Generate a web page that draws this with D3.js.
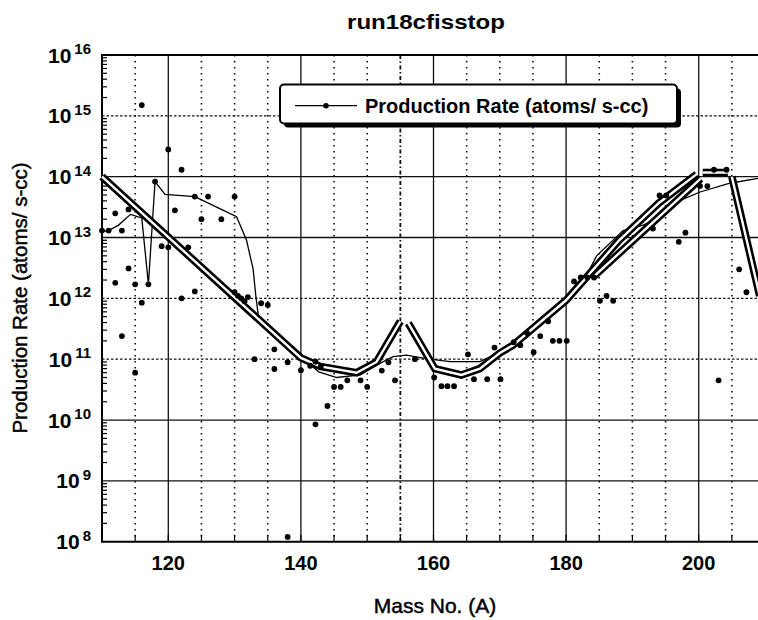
<!DOCTYPE html>
<html lang="en">
<head>
<meta charset="UTF-8">
<title>run18cfisstop</title>
<script src="https://d3js.org/d3.v7.min.js"></script>
<style>
  body { margin: 0; background: #fff; }
  svg { display: block; font-family: "Liberation Sans", Arial, sans-serif; }
  .grid-solid { stroke: #111; stroke-width: 1.3; }
  .grid-dot { stroke: #111; stroke-width: 1.6; stroke-dasharray: 1.6 4.4; }
  .grid-hdot { stroke: #111; stroke-width: 1.3; stroke-dasharray: 2.5 2; }
  .grid-dashdot { stroke: #111; stroke-width: 1.8; stroke-dasharray: 4 2.5 1.5 2.5; }
  .axis-line { stroke: #000; stroke-width: 2; fill: none; }
  .tick { stroke: #000; stroke-width: 1.2; }
  .thin { fill: none; stroke: #000; stroke-width: 1.3; }
  .thick-outer { fill: none; stroke: #000; stroke-width: 7.6; stroke-linejoin: miter; }
  .thick-inner { fill: none; stroke: #fff; stroke-width: 2.4; stroke-linejoin: miter; }
  .dot { fill: #000; }
  .heavy-text { stroke: #000; stroke-width: 0.45; }
</style>
</head>
<body>
<svg id="chart" width="758" height="620"></svg>
<script>
// scattered production rates (mass number, atoms/s-cc)
const dotMass = [110, 111, 112, 113, 114, 112, 114, 115, 116, 117, 118, 116, 113, 115,
  119, 120, 120, 121, 122, 122, 123, 124, 124, 125, 126, 128, 130, 130, 130.5, 131, 131.5, 132,
  133, 134, 135, 136, 136, 138, 138, 140, 141.4, 142.2, 142.2, 143, 144, 145, 146, 147, 149, 150,
  152.2, 153.2, 154.2, 157.2, 160.1, 161.2, 162.1, 163.1, 165.2, 166.1, 168.1, 170.1, 169.2,
  172.1, 173.1, 174.1, 175.1, 176.1, 177.3, 178, 179, 180.1, 181.2, 182.2, 183.2, 184.2,
  185.1, 186.1, 187.1, 193.1, 194.1, 195.1, 197, 198, 200.2, 201.3, 202.3, 204.2, 203, 206.1, 207.2];
const dotRate = [1.3e13, 1.3e13, 2.5e13, 1.3e13, 2.9e13, 1.8e12, 3.1e12, 1.7e12, 8.5e11, 1.7e12, 8.3e13, 1.5e15, 2.4e11, 6e10,
  7.2e12, 6.9e12, 2.8e14, 2.8e13, 1.3e14, 1e12, 6.9e12, 4.7e13, 1.3e12, 2e13, 4.7e13, 2e13, 4.7e13, 1.26e12, 1.1e12, 1e12, 9e11, 1.05e12,
  1e11, 8.3e11, 7.8e11, 1.45e11, 6.9e10, 8.9e10, 1.2e8, 6.6e10, 7.8e10, 9.1e10, 8.5e9, 7.6e10, 1.7e10, 3.5e10, 3.5e10, 4.5e10, 4.5e10, 3.5e10,
  6.5e10, 8.9e10, 4.5e10, 1e11, 5e10, 3.6e10, 3.6e10, 3.6e10, 1.2e11, 4.7e10, 4.7e10, 4.7e10, 1.55e11,
  1.9e11, 1.7e11, 2.7e11, 1.3e11, 2.4e11, 4.2e11, 2e11, 2e11, 2e11, 1.9e12, 2.2e12, 2.2e12, 2.2e12,
  9.1e11, 1.1e12, 9.1e11, 1.4e13, 4.9e13, 4.9e13, 8.5e12, 1.2e13, 7e13, 7e13, 1.3e14, 1.3e14, 4.5e10, 3e12, 1.26e12];

// thin connecting curve
const thinMass = [110, 111, 112.5, 114.3, 116, 117, 118, 119.5, 124, 128, 130.3, 131.8, 132.8, 133.2, 133.6,
  140, 142.7, 145.4, 149, 151.4, 153.9, 155.9, 158.9, 162.5, 167, 170, 176, 180, 182.6, 184.6,
  188.6, 191.6, 193.1, 196.1, 200.2, 204.7, 208.7, 210];
const thinRate = [1.25e13, 1.3e13, 1.6e13, 2.4e13, 2.1e13, 1.7e12, 8.3e13, 5.1e13, 4.7e13, 2.9e13, 2.2e13, 9e12, 3e12, 1.1e12, 5e11,
  1.1e11, 6.2e10, 5e10, 5.5e10, 8e10, 1.1e11, 1.17e11, 1.02e11, 9.1e10, 9.1e10, 1.3e11, 4e11, 1e12, 1.9e12, 5e12,
  1.3e13, 1.6e13, 1.9e13, 3.6e13, 5.6e13, 7.8e13, 9.3e13, 9.6e13];

// heavy double-line segments
const heavyLeftMass = [110, 140, 142.9, 148.4, 151.4, 155];
const heavyLeftRate = [1e14, 1.05e11, 7.6e10, 6e10, 9e10, 4.2e11];
const heavyRightMass = [156.2, 160.2, 164.2, 167, 170, 172, 180, 188, 194, 199.7];
const heavyRightRate = [3.9e11, 7e10, 5.5e10, 7e10, 1.26e11, 1.7e11, 9.3e11, 9e12, 3.7e13, 1.1e14];
const heavyUpperMass = [184, 200.3];
const heavyUpperRate = [2.2e12, 9.3e13];
const heavyTopMass = [200.6, 204.4];
const heavyTopRate = [1.17e14, 1.17e14];
const heavyDropMass = [205, 209.2];
const heavyDropRate = [1e14, 1.1e12];

// axes
const decades = [8, 9, 10, 11, 12, 13, 14, 15, 16];
const massLabels = [120, 140, 160, 180, 200];
const dottedDecades = [15, 12, 11];

const svg = d3.select("#chart");
const plotL = 102, plotR = 765, plotT = 55, plotB = 541.7;

const x = d3.scaleLinear().domain([110, 210]).range([plotL, plotR]);
const y = d3.scaleLog().domain([1e8, 1e16]).range([plotB, plotT]);

const zip = (a, b) => a.map((v, i) => [v, b[i]]);
const line = d3.line().x(d => x(d[0])).y(d => y(d[1]));

// vertical grid
const g = svg.append("g");
d3.range(115, 210, 5).forEach(m => {
  let cls = m % 20 === 0 ? "grid-solid" : (m === 155 ? "grid-dashdot" : "grid-dot");
  g.append("line").attr("class", cls)
    .attr("x1", x(m)).attr("x2", x(m)).attr("y1", plotT).attr("y2", plotB);
  g.append("line").attr("class", "tick")
    .attr("x1", x(m)).attr("x2", x(m)).attr("y1", plotB).attr("y2", plotB - 7);
});

// horizontal grid
decades.slice(1, -1).forEach(e => {
  g.append("line").attr("class", dottedDecades.includes(e) ? "grid-hdot" : "grid-solid")
    .attr("x1", plotL).attr("x2", plotR).attr("y1", y(Math.pow(10, e))).attr("y2", y(Math.pow(10, e)));
});

// minor log ticks on the left axis
decades.slice(0, -1).forEach(e => {
  d3.range(2, 10).forEach(k => {
    const yy = y(k * Math.pow(10, e));
    g.append("line").attr("class", "tick")
      .attr("x1", plotL).attr("x2", plotL + 5).attr("y1", yy).attr("y2", yy);
  });
});

// frame
svg.append("path").attr("class", "axis-line")
  .attr("d", `M${plotR},${plotT}H${plotL}V${plotB}H${plotR}`);

// thin curve
svg.append("path").attr("class", "thin").attr("d", line(zip(thinMass, thinRate)));

// heavy double lines
[[heavyLeftMass, heavyLeftRate], [heavyRightMass, heavyRightRate], [heavyUpperMass, heavyUpperRate],
 [heavyTopMass, heavyTopRate], [heavyDropMass, heavyDropRate]].forEach(([m, r]) => {
  const d = line(zip(m, r));
  svg.append("path").attr("class", "thick-outer").attr("d", d);
  svg.append("path").attr("class", "thick-inner").attr("d", d);
});

// scattered points
svg.append("g").selectAll("circle")
  .data(zip(dotMass, dotRate))
  .join("circle")
  .attr("class", "dot")
  .attr("cx", d => x(d[0]))
  .attr("cy", d => y(d[1]))
  .attr("r", 2.9);

// y tick labels 10^n
decades.forEach(e => {
  const t = svg.append("text")
    .attr("x", 91).attr("y", y(Math.pow(10, e)) + 7.5)
    .attr("text-anchor", "end")
    .style("font-size", "21px").style("font-weight", "bold");
  t.append("tspan").text("10");
  t.append("tspan").attr("dx", 3).attr("dy", -8.5).style("font-size", "15px").text(e);
});

// x tick labels
massLabels.forEach(m => {
  svg.append("text").attr("x", x(m)).attr("y", 570)
    .attr("text-anchor", "middle")
    .style("font-size", "20px").style("font-weight", "bold")
    .text(m);
});

// titles
svg.append("text").attr("x", 426).attr("y", 29)
  .attr("text-anchor", "middle")
  .attr("textLength", 158).attr("lengthAdjust", "spacingAndGlyphs")
  .style("font-size", "21px").style("font-weight", "bold")
  .text("run18cfisstop");

svg.append("text").attr("x", 435).attr("y", 613)
  .attr("class", "heavy-text")
  .attr("text-anchor", "middle")
  .style("font-size", "21px")
  .text("Mass No. (A)");

svg.append("text")
  .attr("class", "heavy-text")
  .attr("transform", "translate(27,298) rotate(-90)")
  .attr("text-anchor", "middle")
  .style("font-size", "20.5px")
  .text("Production Rate (atoms/ s-cc)");

// legend
const lg = svg.append("g");
lg.append("rect").attr("x", 284).attr("y", 88.5).attr("width", 397).attr("height", 39)
  .attr("rx", 4).attr("fill", "#000");
lg.append("rect").attr("x", 280).attr("y", 84.5).attr("width", 397).attr("height", 39)
  .attr("rx", 4).attr("fill", "#fff").attr("stroke", "#000").attr("stroke-width", 2);
lg.append("line").attr("x1", 295).attr("x2", 357).attr("y1", 105.7).attr("y2", 105.7)
  .attr("stroke", "#000").attr("stroke-width", 1.3);
lg.append("circle").attr("cx", 326).attr("cy", 105.7).attr("r", 2.8).attr("fill", "#000");
lg.append("text").attr("x", 365).attr("y", 112.5)
  .style("font-size", "20px").style("font-weight", "bold")
  .text("Production Rate (atoms/ s-cc)");
</script>
</body>
</html>
